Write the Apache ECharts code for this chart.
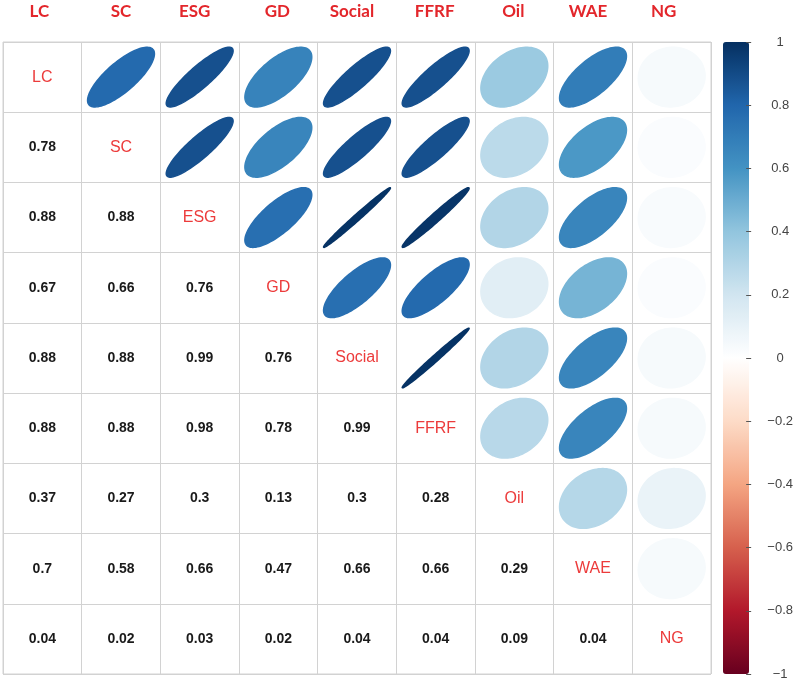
<!DOCTYPE html>
<html>
<head>
<meta charset="utf-8">
<title>Correlation matrix</title>
<script src="https://cdn.jsdelivr.net/npm/echarts@6/dist/echarts.min.js"></script>
<style>
  html, body { margin: 0; padding: 0; background: #fff; }
  #chart { width: 796px; height: 682px; }
</style>
</head>
<body>
<div id="chart"></div>
<script>
// Variables (columns and rows)
const variables = ['LC', 'SC', 'ESG', 'GD', 'Social', 'FFRF', 'Oil', 'WAE', 'NG'];

// Lower triangle correlations, row by row (row i has i values)
const rowSC = [0.78];
const rowESG = [0.88, 0.88];
const rowGD = [0.67, 0.66, 0.76];
const rowSocial = [0.88, 0.88, 0.99, 0.76];
const rowFFRF = [0.88, 0.88, 0.98, 0.78, 0.99];
const rowOil = [0.37, 0.27, 0.3, 0.13, 0.3, 0.28];
const rowWAE = [0.7, 0.58, 0.66, 0.47, 0.66, 0.66, 0.29];
const rowNG = [0.04, 0.02, 0.03, 0.02, 0.04, 0.04, 0.09, 0.04];
const lowerRows = [[], rowSC, rowESG, rowGD, rowSocial, rowFFRF, rowOil, rowWAE, rowNG];

// Colour bar ticks
const colorbarTicks = [-1, -0.8, -0.6, -0.4, -0.2, 0, 0.2, 0.4, 0.6, 0.8, 1];

// corrplot RdBu palette
const palette = ['#67001F', '#B2182B', '#D6604D', '#F4A582', '#FDDBC7', '#FFFFFF',
                 '#D1E5F0', '#92C5DE', '#4393C3', '#2166AC', '#053061'];

// the header labels sit a little left of the column centres in the original
const headerShift = { LC: 3, SC: 0, ESG: 5, GD: 1, Social: 5, FFRF: 1, Oil: 1, WAE: 5, NG: 8 };

function corr(i, j) {
    if (i === j) return 1;
    return i > j ? lowerRows[i][j] : lowerRows[j][i];
}

// Build series data
const ellipseData = [];
const numberData = [];
const diagData = [];
variables.forEach((v, i) => {
    variables.forEach((w, j) => {
        if (j > i) ellipseData.push([j, i, corr(i, j)]);
        else if (j < i) numberData.push([j, i, corr(i, j)]);
        else diagData.push([j, i, v]);
    });
});

const headerRich = {};
variables.forEach(v => {
    headerRich['h' + v] = {
        color: '#e3262b',
        fontFamily: 'Lato',
        fontWeight: 'bold',
        fontSize: 17,
        padding: [0, headerShift[v] * 2, 0, 0]
    };
});

const chart = echarts.init(document.getElementById('chart'));

const option = {
    backgroundColor: '#fff',
    animation: false,
    grid: [
        { left: 3, top: 42, width: 708, height: 632, show: true, borderColor: '#d2d2d2', borderWidth: 1 },
        { left: 723, top: 42, width: 26, height: 632 }
    ],
    xAxis: [{
        type: 'category',
        gridIndex: 0,
        data: variables,
        position: 'top',
        axisLine: { show: false },
        axisTick: { show: false },
        axisLabel: {
            interval: 0,
            hideOverlap: false,
            margin: 22,
            formatter: v => '{h' + v + '|' + v + '}',
            rich: headerRich
        },
        splitLine: { show: true, interval: 0, lineStyle: { color: '#d2d2d2', width: 1 } }
    }, {
        type: 'value',
        gridIndex: 1,
        show: false
    }],
    yAxis: [{
        type: 'category',
        gridIndex: 0,
        data: variables,
        inverse: true,
        axisLine: { show: false },
        axisTick: { show: false },
        axisLabel: { show: false, interval: 0 },
        splitLine: { show: true, interval: 0, lineStyle: { color: '#d2d2d2', width: 1 } }
    }, {
        type: 'value',
        gridIndex: 1,
        position: 'right',
        z: 10,
        min: -1,
        max: 1,
        interval: 0.2,
        axisLine: { show: true, onZero: false, lineStyle: { color: 'rgba(0,0,0,0)' } },
        axisTick: {
            show: true,
            inside: false,
            length: 5,
            customValues: colorbarTicks,
            lineStyle: { color: '#555', width: 1 }
        },
        splitLine: { show: false },
        axisLabel: {
            margin: 34,
            align: 'center',
            color: '#444',
            fontFamily: 'Liberation Sans',
            fontSize: 13,
            customValues: colorbarTicks,
            formatter: v => {
                const s = String(Math.round(v * 10) / 10);
                return s.replace('-', '\u2212');
            }
        }
    }],
    visualMap: {
        type: 'continuous',
        min: -1,
        max: 1,
        seriesIndex: 0,
        dimension: 2,
        calculable: false,
        orient: 'vertical',
        left: 723,
        top: 42,
        padding: 0,
        itemWidth: 26,
        itemHeight: 632,
        text: null,
        showLabel: false,
        inRange: { color: palette }
    },
    series: [{
        type: 'custom',
        xAxisIndex: 0,
        yAxisIndex: 0,
        data: ellipseData,
        renderItem: function (params, api) {
            const c = api.coord([api.value(0), api.value(1)]);
            const size = api.size([1, 1]);
            const r = api.value(2);
            const a = Math.acos(r);
            const pts = [];
            for (let k = 0; k < 100; k++) {
                const t = k / 99 * Math.PI * 2;
                pts.push([
                    c[0] + 0.85 * Math.cos(t + a / 2) / 2 * size[0],
                    c[1] - 0.85 * Math.cos(t - a / 2) / 2 * size[1]
                ]);
            }
            const color = api.visual('color');
            return {
                type: 'polygon',
                shape: { points: pts },
                style: { fill: color, stroke: color, lineWidth: 1.5 }
            };
        }
    }, {
        type: 'custom',
        xAxisIndex: 0,
        yAxisIndex: 0,
        data: numberData,
        renderItem: function (params, api) {
            const c = api.coord([api.value(0), api.value(1)]);
            return {
                type: 'text',
                x: c[0],
                y: c[1],
                style: {
                    text: String(api.value(2)),
                    align: 'center',
                    verticalAlign: 'middle',
                    fill: '#1a1a1a',
                    font: 'bold 14px "Liberation Sans", Arial, sans-serif'
                }
            };
        }
    }, {
        type: 'custom',
        xAxisIndex: 0,
        yAxisIndex: 0,
        data: diagData,
        renderItem: function (params, api) {
            const c = api.coord([api.value(0), api.value(1)]);
            return {
                type: 'text',
                x: c[0],
                y: c[1],
                style: {
                    text: diagData[params.dataIndex][2],
                    align: 'center',
                    verticalAlign: 'middle',
                    fill: '#ec3b3b',
                    font: '16px "Liberation Sans", Arial, sans-serif'
                }
            };
        }
    }]
};

chart.setOption(option);
</script>
</body>
</html>
